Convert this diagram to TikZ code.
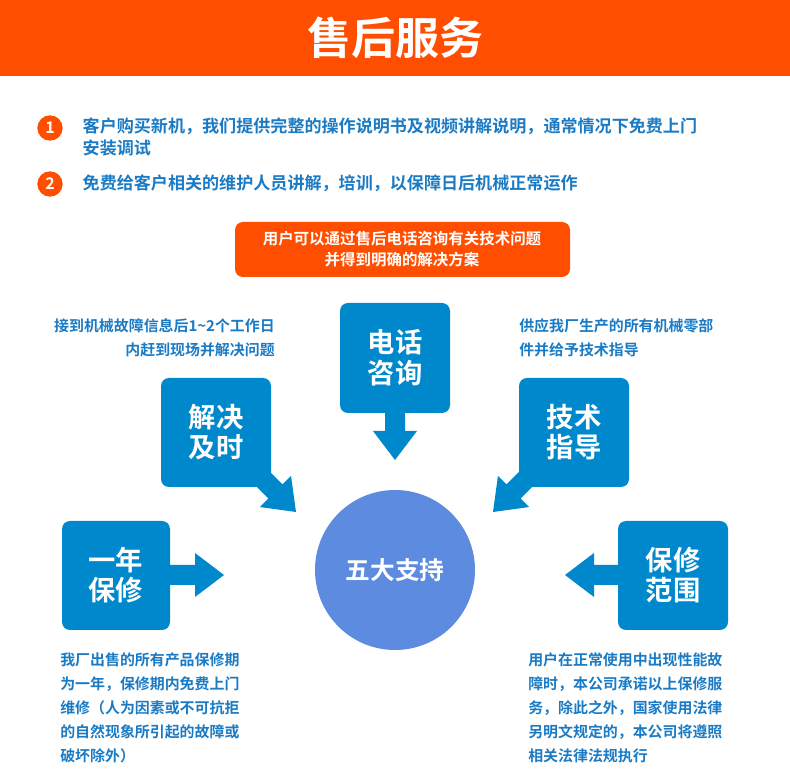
\documentclass[tikz,border=0pt]{standalone}
\usepackage{fontspec}
\setmainfont{Noto Sans CJK SC}[BoldFont={Noto Sans CJK SC Bold}]
\definecolor{org}{RGB}{255,78,0}
\definecolor{bbox}{RGB}{0,136,204}
\definecolor{btxt}{RGB}{26,123,196}
\definecolor{circ}{RGB}{92,139,224}
\tikzset{
 bbx/.style={fill=bbox,rounded corners=6pt,draw=none},
 btext/.style={text=white,font=\bfseries\fontsize{20.5}{23}\selectfont,align=center},
 body/.style={text=btxt,font=\bfseries\fontsize{11.2}{18}\selectfont},
 item/.style={text=btxt,font=\bfseries\fontsize{12.8}{16}\selectfont,anchor=west,align=left},
 num/.style={circle,fill=org,minimum size=19pt,inner sep=0pt,text=white,font=\bfseries\fontsize{12}{12}\selectfont}
}
\newcommand{\bigarrow}[4]{% x y angle length
 \begin{scope}[shift={(#1,#2)},rotate=#3]
 \fill[bbox] (0,0) -- (-29,-22) -- (-29,-10) -- (-#4,-10) -- (-#4,10) -- (-29,10) -- (-29,22) -- cycle;
 \end{scope}}
\begin{document}
\begin{tikzpicture}[x=0.75pt,y=-0.75pt]
\useasboundingbox (0,0) rectangle (790,780);
\fill[org] (0,0) rectangle (790,76);
\node[text=white,font=\bfseries\fontsize{33}{36}\selectfont] (title) at (395,38) {售后服务};
\node[num] (n1) at (50,128) {1};
\node[num] (n2) at (50,184) {2};
\node[item] (t1) at (78,137) {客户购买新机，我们提供完整的操作说明书及视频讲解说明，通常情况下免费上门\\安装调试};
\node[item] (t2) at (78,183) {免费给客户相关的维护人员讲解，培训，以保障日后机械正常运作};
\fill[org,rounded corners=6pt] (235,222) rectangle (570,277);
\node[text=white,font=\bfseries\fontsize{11.6}{16}\selectfont,align=center] (hot) at (402,249) {用户可以通过售后电话咨询有关技术问题\\并得到明确的解决方案};
% arrows
\bigarrow{395}{460}{-90}{60}
\bigarrow{296}{512}{-45}{62}
\bigarrow{493}{512}{-135}{62}
\bigarrow{224}{575}{0}{60}
\bigarrow{565}{575}{180}{60}
% boxes
\fill[bbx] (340,303) rectangle (450,413);
\node[btext] (b1) at (395,358) {电话\\咨询};
\fill[bbx] (161,378) rectangle (271,487);
\node[btext] (b2) at (216,432) {解决\\及时};
\fill[bbx] (519,378) rectangle (629,487);
\node[btext] (b3) at (574,432) {技术\\指导};
\fill[bbx] (62,521) rectangle (170,630);
\node[btext] (b4) at (116,575) {一年\\保修};
\fill[bbx] (618,521) rectangle (728,630);
\node[btext] (b5) at (673,575) {保修\\范围};
\fill[circ] (395,570) circle (80);
\node[text=white,font=\bfseries\fontsize{18.5}{20}\selectfont] (c) at (395,570) {五大支持};
% texts
\node[body,anchor=north east,align=right,inner sep=0pt] (d2) at (275,318) {接到机械故障信息后1\textasciitilde2个工作日\\内赶到现场并解决问题};
\node[body,anchor=north west,align=left,inner sep=0pt] (d3) at (519,318) {供应我厂生产的所有机械零部\\件并给予技术指导};
\node[body,anchor=north west,align=left,inner sep=0pt] (d4) at (60,652) {我厂出售的所有产品保修期\\为一年，保修期内免费上门\\维修（人为因素或不可抗拒\\的自然现象所引起的故障或\\破坏除外）};
\node[body,anchor=north west,align=left,inner sep=0pt] (d5) at (528,652) {用户在正常使用中出现性能故\\障时，本公司承诺以上保修服\\务，除此之外，国家使用法律\\另明文规定的，本公司将遵照\\相关法律法规执行};
\end{tikzpicture}
\end{document}
